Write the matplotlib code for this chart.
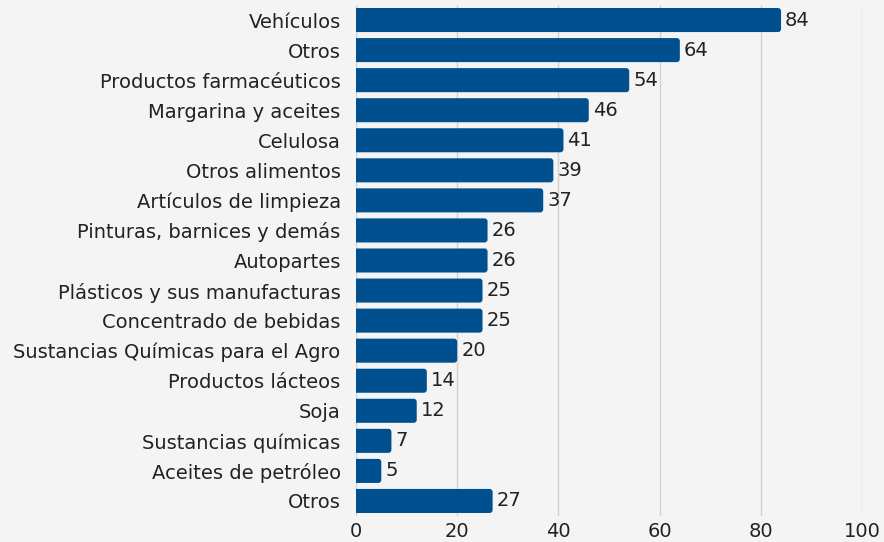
import matplotlib
matplotlib.use("Agg")
import matplotlib.pyplot as plt
from matplotlib.patches import FancyBboxPatch

categories = [
    "Vehículos", "Otros", "Productos farmacéuticos", "Margarina y aceites",
    "Celulosa", "Otros alimentos", "Artículos de limpieza",
    "Pinturas, barnices y demás", "Autopartes", "Plásticos y sus manufacturas",
    "Concentrado de bebidas", "Sustancias Químicas para el Agro",
    "Productos lácteos", "Soja", "Sustancias químicas", "Aceites de petróleo",
    "Otros",
]
values = [84, 64, 54, 46, 41, 39, 37, 26, 26, 25, 25, 20, 14, 12, 7, 5, 27]
x_ticks = [0, 20, 40, 60, 80, 100]

BG = "#f4f4f4"
BAR = "#00508f"
TEXT = "#222222"
FS = 14

plt.rcParams["font.family"] = ["DejaVu Sans"]

fig = plt.figure(figsize=(8.84, 5.42), dpi=100, facecolor=BG)
ax = fig.add_axes([356 / 884, 26 / 542, 506 / 884, 511 / 542])
ax.set_facecolor(BG)

n = len(categories)
ax.set_xlim(0, 100)
ax.set_ylim(n - 0.5, -0.5)

bar_h = 0.8
for i, v in enumerate(values):
    patch = FancyBboxPatch(
        (-2, i - bar_h / 2), v + 2, bar_h,
        boxstyle="round,pad=0,rounding_size=0.6",
        mutation_aspect=0.17,
        facecolor=BAR, edgecolor="none", zorder=3,
    )
    ax.add_patch(patch)
    ax.text(v + 0.8, i, f"{v}", va="center", ha="left",
            fontsize=FS, color=TEXT, zorder=4)

ax.set_yticks(range(n))
ax.set_yticklabels(categories, fontsize=FS, color=TEXT)
ax.set_xticks(x_ticks)
ax.set_xticklabels([str(t) for t in x_ticks], fontsize=FS, color=TEXT)
ax.tick_params(axis="both", length=0)
ax.tick_params(axis="y", pad=11)
ax.tick_params(axis="x", pad=4)

for t in x_ticks:
    ax.axvline(t, color="#d2d2d2", lw=1, zorder=1)

for s in ax.spines.values():
    s.set_visible(False)

fig.savefig("out.png", dpi=100, facecolor=BG)
